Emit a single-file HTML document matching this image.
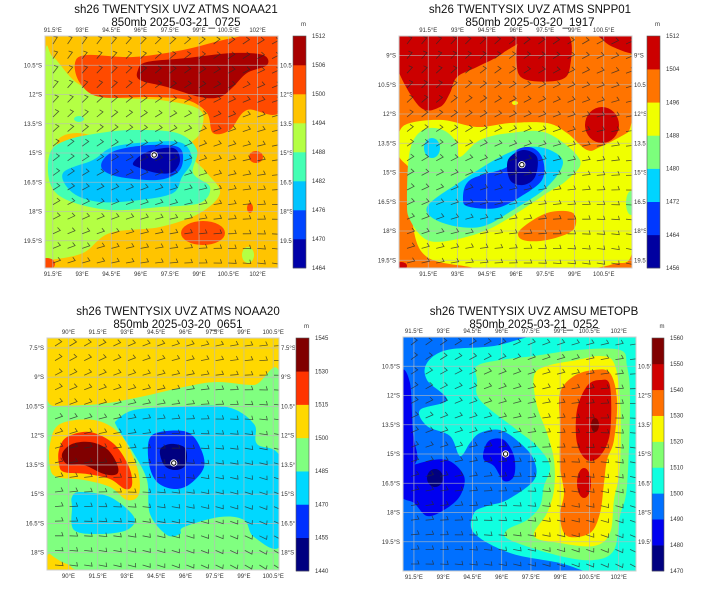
<!DOCTYPE html>
<html><head><meta charset="utf-8">
<style>
html,body{margin:0;padding:0;background:#fff;}
svg{display:block;font-family:"Liberation Sans","DejaVu Sans",sans-serif;}
</style></head>
<body>
<svg id="fig" width="720" height="604" viewBox="0 0 720 604" xmlns="http://www.w3.org/2000/svg"></svg>
<script>
// ---- data arrays ----
const titles1 = ["sh26 TWENTYSIX UVZ ATMS NOAA21","sh26 TWENTYSIX UVZ ATMS SNPP01","sh26 TWENTYSIX UVZ ATMS NOAA20","sh26 TWENTYSIX UVZ AMSU METOPB"];
const titles2 = ["850mb 2025-03-21_0725","850mb 2025-03-20_1917","850mb 2025-03-20_0651","850mb 2025-03-21_0252"];
const levels1 = [1464,1470,1476,1482,1488,1494,1500,1506,1512];
const levels2 = [1456,1464,1472,1480,1488,1496,1504,1512];
const levels3 = [1440,1455,1470,1485,1500,1515,1530,1545];
const levels4 = [1470,1480,1490,1500,1510,1520,1530,1540,1550,1560];
const lonTicks1 = [91.5,93,94.5,96,97.5,99,100.5,102];
const lonTicks2 = [91.5,93,94.5,96,97.5,99,100.5];
const lonTicks3 = [90,91.5,93,94.5,96,97.5,99,100.5];
const lonTicks4 = [91.5,93,94.5,96,97.5,99,100.5,102];
const latTicks1 = [10.5,12,13.5,15,16.5,18,19.5];
const latTicks2 = [9,10.5,12,13.5,15,16.5,18,19.5];
const latTicks3 = [7.5,9,10.5,12,13.5,15,16.5,18];
const latTicks4 = [10.5,12,13.5,15,16.5,18,19.5];
const centerLon = [96.7,96.3,95.4,96.2];
const centerLat = [15.1,14.6,13.4,15.0];

const colors1 = ["#0000a8","#0044ff","#00c4ff","#44ffb4","#b4ff44","#ffc400","#ff4a00","#a80000"];
const colors2 = ["#0000a0","#0038ff","#00d4ff","#7cff7c","#f0ff00","#ff7400","#cc0000"];
const colors3 = ["#000080","#0030ff","#00d8ff","#80ff80","#ffd800","#ff3400","#800000"];
const colors4 = ["#000080","#0000f0","#0070ff","#10ffe0","#80ff70","#f8f800","#ff7000","#d00000","#800000"];

const panels = [
 {x:45,y:36,w:233,h:232,lon0:91.1,lat0:9.0,ppd:19.5,cb:[293,36,13,232],lv:levels1,col:colors1,lon:lonTicks1,lat:latTicks1,tx:176,ty:13,bg:5,ang:-60,
  blobs:[
   [4,[[0,27],[8,21],[32,47],[65,61],[115,64],[155,74],[155,97],[142,114],[162,137],[175,157],[155,177],[115,191],[65,197],[38,217],[5,224],[0,224]]],
   [5,'e',32,107,20,10],[6,'e',34,107,6,4],[3,'e',34,83,5,3],
   [3,[[5,117],[22,104],[55,97],[88,94],[132,97],[152,114],[148,137],[165,151],[155,167],[115,171],[65,174],[22,164],[5,147]]],
   [2,[[18,137],[48,124],[68,111],[105,106],[137,107],[147,124],[137,141],[128,157],[95,164],[55,166],[28,157]]],
   [1,[[58,124],[72,114],[105,109],[133,111],[138,124],[132,137],[112,144],[75,141],[58,134]]],
   [0,[[88,127],[102,116],[128,112],[135,124],[128,136],[112,137],[95,132]]],
   [6,[[30,27],[42,19],[88,21],[138,14],[188,2],[236,-2],[236,74],[202,74],[185,94],[168,97],[162,77],[142,64],[105,61],[55,61],[35,47]]],
   [7,[[93,34],[102,26],[142,22],[188,17],[218,19],[222,29],[202,37],[188,51],[175,61],[155,61],[122,51],[95,44]]],
   [6,'e',211,121,7,6],[6,'e',205,172,3,5],[6,'e',158,197,22,12],[4,'e',203,219,6,8],[6,'e',2,228,8,6]
  ]},
 {x:399,y:36,w:233,h:232,lon0:90.0,lat0:8.0,ppd:19.5,cb:[647,36,13,232],lv:levels2,col:colors2,lon:lonTicks2,lat:latTicks2,tx:530,ty:13,bg:5,ang:-55,
  blobs:[
   [6,[[-2,-2],[118,-2],[104,17],[78,31],[58,41],[51,57],[41,71],[21,71],[-2,31]]],
   [6,[[124,-2],[168,-2],[171,31],[161,44],[128,44],[118,31]]],
   [6,[[201,-2],[236,-2],[236,17],[214,11],[204,4]]],
   [6,'e',203,89,17,18],[6,'e',73,97,9,5],
   [4,[[0,97],[11,87],[44,84],[78,91],[111,87],[148,87],[168,97],[188,114],[201,111],[228,97],[234,91],[234,211],[214,228],[174,234],[111,237],[71,231],[28,221],[14,190],[14,140],[0,120]]],
   [5,[[121,194],[148,177],[174,177],[174,194],[148,204],[124,204]]],
   [4,'e',116,67,3,2],
   [3,[[11,114],[24,94],[44,94],[58,107],[61,121],[81,104],[111,97],[148,97],[181,124],[168,144],[148,157],[118,177],[88,194],[54,204],[28,204],[11,184],[8,164]]],
   [2,'e',33,112,8,10],[3,'e',232,167,5,12],
   [2,[[28,171],[64,144],[101,121],[128,111],[151,114],[164,127],[148,151],[114,174],[81,191],[44,187]]],
   [1,[[64,164],[71,144],[108,131],[118,114],[134,112],[144,124],[143,144],[121,161],[98,172],[71,171]]],
   [0,[[109,124],[124,114],[138,121],[136,141],[124,149],[111,144]]],
   [6,'e',2,230,6,4]
  ]},
 {x:47,y:338,w:232,h:232,lon0:88.9,lat0:6.99,ppd:19.5,cb:[296,338,13,233],lv:levels3,col:colors3,lon:lonTicks3,lat:latTicks3,tx:178,ty:315,bg:4,ang:-35,
  blobs:[
   [3,[[-2,69],[7,68],[53,66],[93,59],[137,49],[170,44],[207,47],[234,42],[234,234],[53,234],[20,226],[3,216],[-2,209]]],
   [4,[[3,106],[13,86],[47,82],[73,96],[90,129],[92,156],[80,162],[63,149],[37,142],[10,139],[3,129]]],
   [5,[[12,112],[20,99],[43,94],[67,106],[82,129],[85,147],[78,151],[63,141],[40,136],[17,134],[12,126]]],
   [6,[[15,116],[25,106],[43,104],[60,111],[70,126],[70,136],[57,136],[37,127],[20,126]]],
   [2,[[70,82],[87,72],[127,69],[180,69],[207,86],[210,106],[234,122],[234,206],[207,199],[197,182],[173,179],[137,189],[133,196],[120,197],[103,176],[100,142],[87,116],[70,89]]],
   [2,[[25,159],[33,154],[63,159],[87,179],[80,192],[53,196],[27,192],[25,169]]],
   [1,[[102,102],[113,94],[140,94],[153,109],[157,129],[143,146],[127,151],[110,144],[102,126]]],
   [0,[[113,112],[123,106],[137,109],[140,119],[137,129],[127,132],[117,127]]]
  ]},
 {x:403,y:337,w:233,h:234,lon0:90.94,lat0:9.0,ppd:19.5,cb:[652,338,12,233],lv:levels4,col:colors4,lon:lonTicks4,lat:latTicks4,tx:534,ty:315,bg:2,ang:-40,
  blobs:[
   [3,[[24,26],[44,13],[91,9],[141,-2],[236,-2],[236,236],[191,236],[157,226],[107,216],[71,196],[71,176],[84,169],[104,163],[131,143],[131,123],[117,106],[97,93],[77,96],[67,106],[57,119],[47,99],[24,89],[17,73],[44,63],[24,43]]],
   [4,[[74,29],[97,23],[131,19],[174,13],[217,13],[224,29],[227,63],[224,149],[217,179],[211,213],[191,223],[157,219],[107,203],[104,193],[124,183],[137,169],[141,149],[147,129],[134,109],[114,93],[77,63],[74,43]]],
   [5,[[131,39],[144,29],[174,23],[197,19],[211,26],[217,63],[217,129],[211,163],[207,196],[191,209],[157,206],[131,199],[144,176],[151,153],[151,123],[144,96],[134,69]]],
   [6,[[157,56],[171,39],[191,33],[207,36],[214,63],[211,103],[204,123],[201,146],[197,176],[187,196],[164,199],[157,179],[161,156],[157,129],[157,89]]],
   [7,[[174,73],[184,49],[197,43],[207,49],[207,96],[197,119],[184,123],[174,106]]],
   [8,'e',192,88,4,7],[7,'e',181,146,7,15],
   [1,[[-2,39],[7,46],[10,96],[14,123],[-2,130]]],
   [1,[[-2,136],[17,126],[44,123],[61,139],[57,159],[41,173],[24,179],[11,166],[-2,159]]],
   [0,'e',32,141,8,9],
   [1,[[81,113],[87,103],[101,103],[111,119],[111,139],[101,144],[91,129],[81,123]]]
  ]}
];

const NS="http://www.w3.org/2000/svg";
const svg=document.getElementById('fig');
function mk(tag,attrs,parent){const e=document.createElementNS(NS,tag);for(const k in attrs)e.setAttribute(k,attrs[k]);(parent||svg).appendChild(e);return e;}
function smooth(pts){
  const n=pts.length;let d="M"+pts[0][0]+","+pts[0][1];
  for(let i=0;i<n;i++){
    const p0=pts[(i-1+n)%n],p1=pts[i],p2=pts[(i+1)%n],p3=pts[(i+2)%n];
    const c1=[p1[0]+(p2[0]-p0[0])/6,p1[1]+(p2[1]-p0[1])/6];
    const c2=[p2[0]-(p3[0]-p1[0])/6,p2[1]-(p3[1]-p1[1])/6];
    d+=" C"+c1[0].toFixed(1)+","+c1[1].toFixed(1)+" "+c2[0].toFixed(1)+","+c2[1].toFixed(1)+" "+p2[0]+","+p2[1];
  }
  return d+"Z";
}

panels.forEach((P,pi)=>{
  const xOf=lon=>P.x+(lon-P.lon0)*P.ppd;
  const yOf=lat=>P.y+(lat-P.lat0)*P.ppd;
  const g=mk('g',{});
  
  
  const t1=mk('text',{x:P.tx,y:P.ty,'font-size':11.5,'text-anchor':'middle',fill:'#111'},g);t1.textContent=titles1[pi];
  
  const t2=mk('text',{x:P.tx,y:P.ty+13,'font-size':11.5,'text-anchor':'middle',fill:'#111'},g);t2.textContent=titles2[pi];
  
  const cid='clip'+pi;
  const cp=mk('clipPath',{id:cid},g);mk('rect',{x:P.x,y:P.y,width:P.w,height:P.h},cp);
  const map=mk('g',{'clip-path':'url(#'+cid+')'},g);
  
  mk('rect',{x:P.x,y:P.y,width:P.w,height:P.h,fill:P.col[P.bg]},map);
  const fg=mk('g',{transform:'translate('+P.x+','+P.y+')'},map);
  P.blobs.forEach(b=>{
    let el;
    if(b[1]==='e') el=mk('ellipse',{cx:b[2],cy:b[3],rx:b[4],ry:b[5],fill:P.col[b[0]]},fg);
    else el=mk('path',{d:smooth(b[1]),fill:P.col[b[0]]},fg);
    
    
  });
  P.lon.forEach(v=>{const l=mk('line',{x1:xOf(v),x2:xOf(v),y1:P.y,y2:P.y+P.h,stroke:'#bbb','stroke-width':0.8,opacity:0.8},map);
    });
  P.lat.forEach(v=>{const l=mk('line',{x1:P.x,x2:P.x+P.w,y1:yOf(v),y2:yOf(v),stroke:'#bbb','stroke-width':0.8,opacity:0.8},map);
    });
  const bg2=mk('g',{stroke:'#2a2a2a','stroke-width':0.8,fill:'none',opacity:0.75},map);
  
  for(let yy=P.y+8;yy<P.y+P.h;yy+=14.6){
    for(let xx=P.x+8;xx<P.x+P.w;xx+=14.6){
      const a=(P.ang+((xx-P.x)/P.w)*30+((yy-P.y)/P.h)*40)*Math.PI/180;
      const ex=xx+8*Math.cos(a),ey=yy+8*Math.sin(a);
      mk('path',{d:`M${xx.toFixed(1)},${yy.toFixed(1)}L${ex.toFixed(1)},${ey.toFixed(1)}l${(4*Math.cos(a-1.9)).toFixed(1)},${(4*Math.sin(a-1.9)).toFixed(1)}`},bg2);
    }
  }
  const cx=xOf(centerLon[pi]),cy=yOf(centerLat[pi]);
  const sc=mk('g',{},map);
  mk('circle',{cx,cy,r:3.6,fill:'#fff'},sc);mk('circle',{cx,cy,r:2.2,fill:'none',stroke:'#000','stroke-width':1},sc);
  mk('rect',{x:P.x,y:P.y,width:P.w,height:P.h,fill:'none',stroke:'#ccc','stroke-width':1},g);
  P.lon.forEach(v=>{
    [P.y-4,P.y+P.h+8].forEach(yy=>{const t=mk('text',{x:xOf(v),y:yy,'font-size':6,'text-anchor':'middle',fill:'#333'},g);t.textContent=v+'°E';
      });
  });
  const rc='rclip'+pi;const rcp=mk('clipPath',{id:rc},g);mk('rect',{x:P.x+P.w,y:P.y,width:P.cb[0]-P.x-P.w-1,height:P.h},rcp);
  const rg=mk('g',{'clip-path':'url(#'+rc+')'},g);
  P.lat.forEach(v=>{
    const t=mk('text',{x:P.x-3,y:yOf(v)+2,'font-size':6,'text-anchor':'end',fill:'#333'},g);t.textContent=v+'°S';
    
    const t2=mk('text',{x:P.x+P.w+2,y:yOf(v)+2,'font-size':6,fill:'#333'},rg);t2.textContent=v+'°S';
    
  });
  const [bx,by,bw,bh]=P.cb;const n=P.col.length;
  const cbg=mk('g',{},g);
  const yL=i=>by+bh-(P.lv[i]-P.lv[0])/(P.lv[n]-P.lv[0])*bh;
  for(let i=0;i<n;i++){const r=mk('rect',{x:bx,y:yL(i+1),width:bw,height:yL(i)-yL(i+1)+0.3,fill:P.col[i]},cbg);
    }
  mk('rect',{x:bx,y:by,width:bw,height:bh,fill:'none',stroke:'#555','stroke-width':0.6},cbg);
  P.lv.forEach((v,i)=>{const t=mk('text',{x:bx+bw+6,y:yL(i)+2,'font-size':6,fill:'#333'},cbg);t.textContent=v;
    });
  const m=mk('text',{x:bx+bw/2+4,y:by-10,'font-size':6,'text-anchor':'middle',fill:'#333'},cbg);m.textContent='m';
  
});
</script>
</body></html>
